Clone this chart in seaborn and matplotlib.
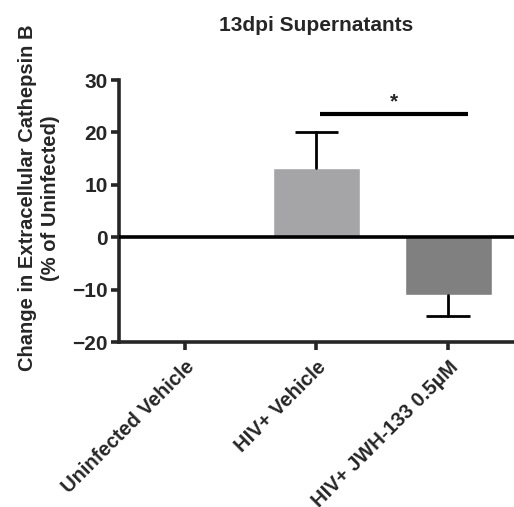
import matplotlib
matplotlib.use("Agg")
import matplotlib.pyplot as plt
import seaborn as sns
import pandas as pd

categories = ["Uninfected Vehicle", "HIV+ Vehicle", "HIV+ JWH-133 0.5µM"]
means = [0.0, 13.3, -11.0]
errors = [0.0, 6.8, 4.1]
colors = ["#ffffff", "#a5a4a8", "#808080"]
sig_y = 23.6
yticks = [-20, -10, 0, 10, 20, 30]

sns.set_style("ticks")
plt.rcParams["font.family"] = ["Liberation Sans", "DejaVu Sans"]
plt.rcParams["font.weight"] = "bold"

df = pd.DataFrame({"group": categories, "value": means})

fig = plt.figure(figsize=(5.14, 5.07), dpi=100)
ax = fig.add_axes([0.2315, 0.3254, 0.7685, 0.5166])

sns.barplot(data=df, x="group", y="value", hue="group", palette=colors,
            width=0.66, ax=ax, legend=False, errorbar=None)

cap_half = 0.165
for i, (m, e) in enumerate(zip(means, errors)):
    if e > 0:
        end = m + e if m >= 0 else m - e
        ax.plot([i, i], [m, end], color="black", lw=2, zorder=3)
        ax.plot([i - cap_half, i + cap_half], [end, end], color="black", lw=2, zorder=3,
                solid_capstyle="butt")

ax.axhline(0, color="black", lw=2.6, zorder=4)
ax.plot([1.03, 2.15], [sig_y, sig_y], color="black", lw=3, solid_capstyle="butt")
ax.text(1.59, sig_y + 0.4, "*", ha="center", va="bottom", fontsize=15, fontweight="bold")

ax.set_xlim(-0.5, 2.5)
ax.set_ylim(-20, 30)
ax.set_yticks(yticks)
ax.set_yticklabels([str(t).replace("-", "\u2212") for t in yticks], fontsize=15, fontweight="bold")
ax.set_xticks(range(len(categories)))
ax.set_xticklabels(categories, rotation=45, ha="right", rotation_mode="anchor",
                   fontsize=14.5, fontweight="bold")
ax.set_xlabel("")
ax.set_ylabel("Change in Extracellular Cathepsin B\n(% of Uninfected)", fontsize=14.5,
              fontweight="bold", linespacing=1.25)
ax.yaxis.set_label_coords(-0.15, 0.55)
ax.set_title("13dpi Supernatants", fontsize=15, fontweight="bold", pad=35)

for s in ["top", "right"]:
    ax.spines[s].set_visible(False)
for s in ["left", "bottom"]:
    ax.spines[s].set_linewidth(2.6)
ax.tick_params(axis="y", width=2.6, length=6, direction="out", pad=2)
ax.tick_params(axis="x", width=2.6, length=6, direction="out", pad=5)

fig.savefig("out.png", dpi=100)
